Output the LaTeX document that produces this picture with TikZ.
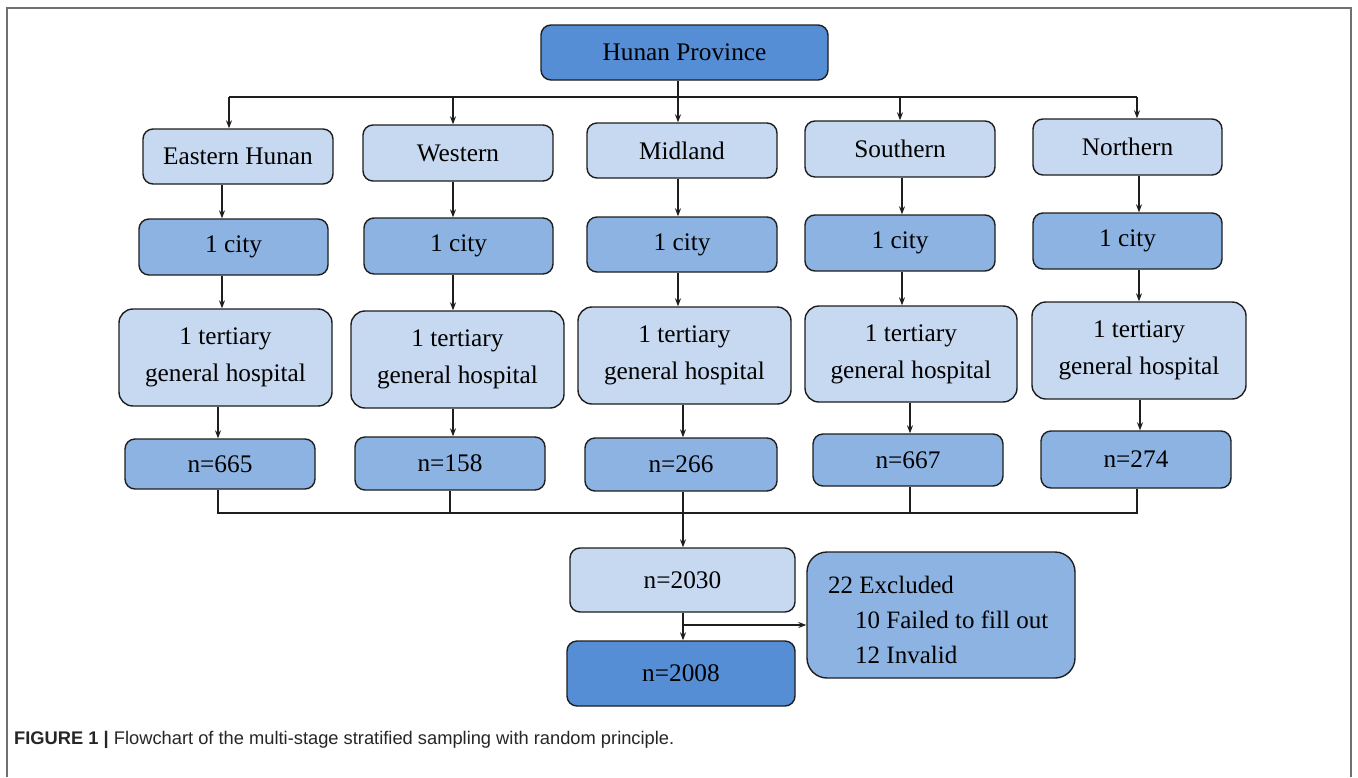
\documentclass[tikz,border=0pt]{standalone}
\usepackage{fontspec}
\setmainfont{Liberation Serif}
\newfontfamily\capfont{Liberation Sans}
\usetikzlibrary{arrows.meta}
\definecolor{lightb}{HTML}{C6D9F1}
\definecolor{midb}{HTML}{8DB3E2}
\definecolor{darkb}{HTML}{558ED5}
\definecolor{frameg}{HTML}{707070}
\definecolor{edgec}{HTML}{1E1E1E}
\tikzset{
  bx/.style={draw=edgec, line width=1.4pt, rounded corners=10pt, inner sep=0pt, align=center,
    font=\fontsize{25.3}{37}\selectfont},
  lt/.style={bx, fill=lightb},
  md/.style={bx, fill=midb},
  dk/.style={bx, fill=darkb},
  arr/.style={draw=edgec, line width=1.2pt, -{Stealth[length=8pt,width=6pt]}},
  ln/.style={draw=edgec, line width=1.2pt},
  extxt/.style={anchor=base west, inner sep=0pt, font=\fontsize{25}{35}\selectfont},
}
\newcommand{\bxat}[7]{% style, name, x1, x2, y1, y2, text
  \node[#1, minimum width={#4-#3}, minimum height={#6-#5}] (#2) at ({(#3+#4)/2},{(#5+#6)/2}) {#7};}
\begin{document}
\begin{tikzpicture}[x=1pt,y=-1pt]
\useasboundingbox (0,0) rectangle (1358,777);
\fill[white] (0,0) rectangle (1358,777);
\draw[frameg, line width=2pt] (7,777) -- (7,8) -- (1351,8) -- (1351,777);

\bxat{dk}{hp}{541}{828}{25}{80}{Hunan Province}

\bxat{lt}{e1}{143}{333}{129}{184}{Eastern Hunan}
\bxat{lt}{w1}{363}{553}{125}{181}{Western}
\bxat{lt}{m1}{587}{777}{123}{178}{Midland}
\bxat{lt}{s1}{805}{995}{121}{177}{Southern}
\bxat{lt}{n1}{1033}{1222}{119}{175}{Northern}

\bxat{md}{e2}{139}{328}{219}{275}{1 city}
\bxat{md}{w2}{364}{553}{218}{274}{1 city}
\bxat{md}{m2}{587}{777}{217}{272}{1 city}
\bxat{md}{s2}{805}{995}{215}{271}{1 city}
\bxat{md}{n2}{1033}{1222}{213}{269}{1 city}

\tikzset{bx/.append style={rounded corners=14pt}}
\bxat{lt}{e3}{119}{332}{309}{406}{1 tertiary\\general hospital}
\bxat{lt}{w3}{351}{564}{311}{408}{1 tertiary\\general hospital}
\bxat{lt}{m3}{578}{791}{307}{404}{1 tertiary\\general hospital}
\bxat{lt}{s3}{805}{1017}{306}{402}{1 tertiary\\general hospital}
\bxat{lt}{n3}{1032}{1246}{302}{399}{1 tertiary\\general hospital}
\tikzset{bx/.append style={rounded corners=10pt}}

\bxat{md}{e4}{125}{315}{439}{489}{n=665}
\bxat{md}{w4}{355}{545}{437}{490}{n=158}
\bxat{md}{m4}{585}{777}{438}{491}{n=266}
\bxat{md}{s4}{813}{1003}{434}{486}{n=667}
\bxat{md}{n4}{1041}{1231}{431}{488}{n=274}

\bxat{lt}{t1}{570}{795}{548}{612}{n=2030}
\bxat{dk}{t2}{567}{795}{641}{706}{n=2008}
\tikzset{bx/.append style={rounded corners=20pt}}
\bxat{md}{ex}{807}{1075}{552}{678}{}
\node[extxt] (ex1) at (828,593) {22 Excluded};
\node[extxt] (ex2) at (855,628) {10 Failed to fill out};
\node[extxt] (ex3) at (855,663) {12 Invalid};

% column x coordinates
\coordinate (cE) at (222,0); \coordinate (cEb) at (218,0); \coordinate (cEt) at (229,0);
\coordinate (cW) at (453,0); \coordinate (cWb) at (450,0);
\coordinate (cM) at (678,0); \coordinate (cMb) at (683,0);
\coordinate (cS) at (902,0); \coordinate (cSb) at (910,0); \coordinate (cSt) at (900,0);
\coordinate (cN) at (1139,0); \coordinate (cNb) at (1140,0); \coordinate (cNt) at (1137,0);
\coordinate (top) at (0,97);
\coordinate (bot) at (0,513);
\coordinate (br) at (0,625);

% top distribution
\draw[ln] (cEt |- top) -- (cNt |- top);
\draw[arr] (hp.south -| cM) -- (m1.north -| cM);
\draw[arr] (cEt |- top) -- (e1.north -| cEt);
\draw[arr] (cW |- top) -- (w1.north -| cW);
\draw[arr] (cSt |- top) -- (s1.north -| cSt);
\draw[arr] (cNt |- top) -- (n1.north -| cNt);

% columns
\draw[arr] (e1.south -| cE) -- (e2.north -| cE);
\draw[arr] (e2.south -| cE) -- (e3.north -| cE);
\draw[arr] (e3.south -| cEb) -- (e4.north -| cEb);
\draw[arr] (w1.south -| cW) -- (w2.north -| cW);
\draw[arr] (w2.south -| cW) -- (w3.north -| cW);
\draw[arr] (w3.south -| cW) -- (w4.north -| cW);
\draw[arr] (m1.south -| cM) -- (m2.north -| cM);
\draw[arr] (m2.south -| cM) -- (m3.north -| cM);
\draw[arr] (m3.south -| cMb) -- (m4.north -| cMb);
\draw[arr] (s1.south -| cS) -- (s2.north -| cS);
\draw[arr] (s2.south -| cS) -- (s3.north -| cS);
\draw[arr] (s3.south -| cSb) -- (s4.north -| cSb);
\draw[arr] (n1.south -| cN) -- (n2.north -| cN);
\draw[arr] (n2.south -| cN) -- (n3.north -| cN);
\draw[arr] (n3.south -| cNb) -- (n4.north -| cNb);

% bottom collection
\draw[ln] (e4.south -| cEb) -- (cEb |- bot) -- (cNt |- bot) -- (n4.south -| cNt);
\draw[ln] (w4.south -| cWb) -- (cWb |- bot);
\draw[ln] (s4.south -| cSb) -- (cSb |- bot);
\draw[ln] (m4.south -| cMb) -- (cMb |- bot);
\draw[arr] (cMb |- bot) -- (t1.north -| cMb);
\draw[arr] (t1.south -| cMb) -- (t2.north -| cMb);
\draw[arr] (cMb |- br) -- (ex.west |- br);

% caption
\node[anchor=base west, inner sep=0pt, font=\capfont\fontsize{18.3}{22}\selectfont, text=black!85] (cap) at (14,744)
  {\textbf{FIGURE 1 |} Flowchart of the multi-stage stratified sampling with random principle.};
\end{tikzpicture}
\end{document}
